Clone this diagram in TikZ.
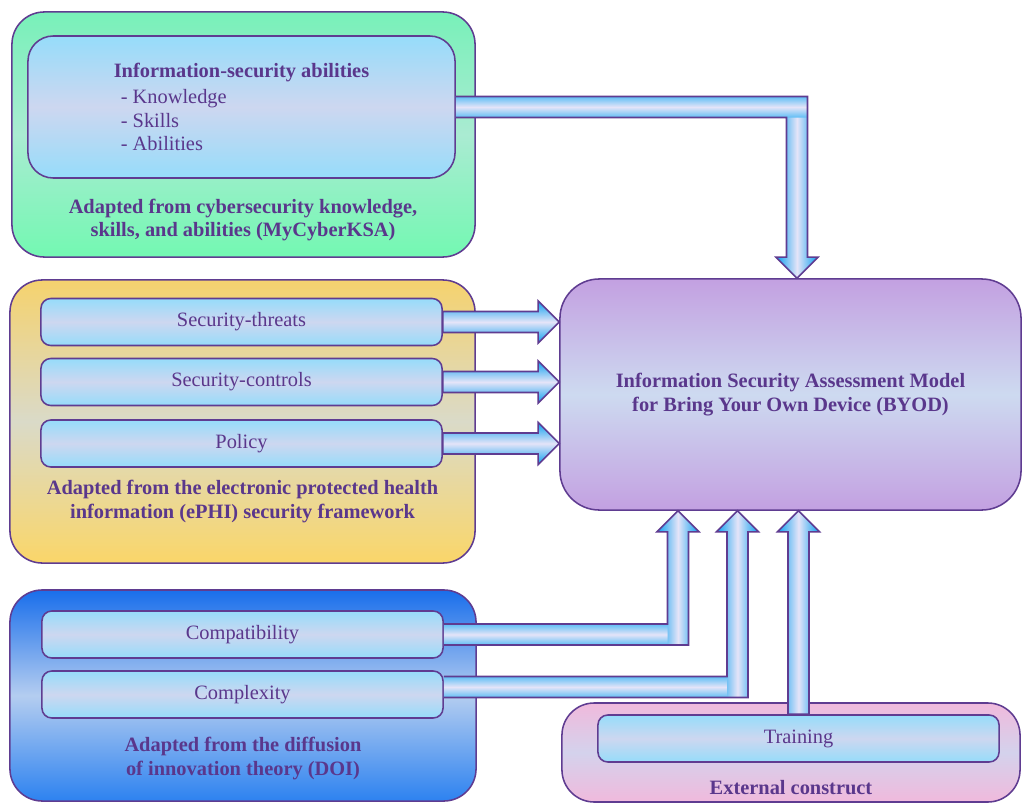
\documentclass[tikz,border=0pt]{standalone}
\usepackage{fontspec}
\setmainfont{Liberation Serif}
\usepackage{tikz}
\usetikzlibrary{calc,positioning}
\definecolor{edge}{RGB}{95,60,145}
\definecolor{ink}{RGB}{90,55,140}
\definecolor{ksatop}{RGB}{120,240,185}
\definecolor{ksamid}{RGB}{170,235,210}
\definecolor{ksabot}{RGB}{115,248,178}
\definecolor{ephitop}{RGB}{245,210,110}
\definecolor{ephimid}{RGB}{218,218,200}
\definecolor{ephibot}{RGB}{250,214,105}
\definecolor{doitop}{RGB}{25,110,235}
\definecolor{doimid}{RGB}{180,205,240}
\definecolor{doibot}{RGB}{45,130,240}
\definecolor{exttop}{RGB}{240,185,220}
\definecolor{extmid}{RGB}{212,210,236}
\definecolor{modtop}{RGB}{195,160,225}
\definecolor{modmid}{RGB}{205,218,240}
\definecolor{itemtop}{RGB}{150,220,250}
\definecolor{itemmid}{RGB}{205,215,240}
\definecolor{band}{RGB}{95,190,245}
\definecolor{banddeep}{RGB}{10,160,240}
\definecolor{bandmid}{RGB}{228,228,248}
\newcommand{\diagfont}{\fontsize{14.5}{16.8}\selectfont}

\begin{document}
\begin{tikzpicture}[
    x=0.025cm, y=-0.025cm,
    group/.style={rectangle, rounded corners=23pt, draw=edge, line width=1.1pt},
    item/.style={rectangle, rounded corners=7pt, draw=edge, line width=1.1pt,
        top color=itemtop, bottom color=itemtop, middle color=itemmid,
        minimum width=10.025cm, minimum height=1.175cm, text=ink, font=\diagfont},
    tag/.style={text=ink, font=\diagfont\bfseries, align=center},
    hband/.style={top color=#1, bottom color=#1, middle color=bandmid},
    hband/.default=band,
    vband/.style={left color=#1, right color=#1, middle color=bandmid},
    vband/.default=banddeep,
    arrline/.style={draw=edge, line width=1.1pt, line join=miter}
]
\useasboundingbox (0,0) rectangle (1022,803);

% source frameworks
\node[group, top color=ksatop, bottom color=ksabot, middle color=ksamid,
    minimum width=11.575cm, minimum height=6.125cm] (ksa) at (243.5,134.5) {};
\node[group, top color=ephitop, bottom color=ephibot, middle color=ephimid,
    minimum width=11.625cm, minimum height=7.075cm] (ephi) at (242.5,421.5) {};
\node[group, top color=doitop, bottom color=doibot, middle color=doimid,
    minimum width=11.65cm, minimum height=5.275cm] (doi) at (243,695.5) {};
\node[group, top color=exttop, bottom color=exttop, middle color=extmid,
    minimum width=11.45cm, minimum height=2.475cm] (ext) at (791,752.5) {};

\node[item, rounded corners=18pt, minimum width=10.675cm, minimum height=3.55cm,
    align=left] (abil) at (241.5,107)
    {\textbf{Information-security abilities}\\[2pt]
     \hspace*{5pt}- Knowledge\\ \hspace*{5pt}- Skills\\ \hspace*{5pt}- Abilities};
\node[item] (thr) at (241.5,322) {Security-threats};
\node[item] (ctl) at (241.5,382) {Security-controls};
\node[item] (pol) at (241.5,443.5) {Policy};
\node[item] (cmpt) at (242.5,634.5) {Compatibility};
\node[item] (cplx) at (242.5,694.5) {Complexity};
\node[item] (trn) at (798.5,738.5) {Training};

% assessment model
\node[rectangle, rounded corners=28pt, draw=edge, line width=1.1pt,
    top color=modtop, bottom color=modtop, middle color=modmid,
    minimum width=11.525cm, minimum height=5.775cm, tag] (model) at (790.5,394.5)
    {Information Security Assessment Model\\for Bring Your Own Device (BYOD)};

% KSA arrow
\coordinate (tipA) at ($(model.north)+(6.5,0)$);
\coordinate (bendA) at (abil.east -| tipA);
\shade[hband] ($(abil.east)+(0,-10.5)$) rectangle ($(bendA)+(10.5,10.5)$);
\shade[vband] ($(bendA)+(-10.5,10.5)$) -- ($(tipA)+(-10.5,-21)$) -- ($(tipA)+(-21,-21)$)
    -- (tipA) -- ($(tipA)+(21,-21)$) -- ($(tipA)+(10.5,-21)$) -- ($(bendA)+(10.5,10.5)$) -- cycle;
\draw[arrline] ($(abil.east)+(0,-10.5)$) -- ($(bendA)+(10.5,-10.5)$) -- ($(tipA)+(10.5,-21)$)
    -- ($(tipA)+(21,-21)$) -- (tipA) -- ($(tipA)+(-21,-21)$) -- ($(tipA)+(-10.5,-21)$)
    -- ($(bendA)+(-10.5,10.5)$) -- ($(abil.east)+(0,10.5)$);

% ePHI arrows
\foreach \src in {thr,ctl,pol}{
  \coordinate (tip) at (\src.east -| model.west);
  \path[arrline, hband=banddeep] ($(\src.east)+(0,-10.5)$) -- ($(tip)+(-21,-10.5)$) -- ($(tip)+(-21,-21)$)
      -- (tip) -- ($(tip)+(-21,21)$) -- ($(tip)+(-21,10.5)$) -- ($(\src.east)+(0,10.5)$) -- cycle;
}

% DOI arrows
\foreach \src/\dy/\dx in {cmpt/0/-112.5, cplx/-7.5/-53}{
  \coordinate (from) at ($(\src.east)+(0,\dy)$);
  \coordinate (tip) at ($(model.south)+(\dx,0)$);
  \coordinate (bend) at (from -| tip);
  \shade[hband] ($(from)+(0,-10.5)$) rectangle ($(bend)+(-10.5,10.5)$);
  \shade[vband] ($(bend)+(-10.5,10.5)$) -- ($(tip)+(-10.5,21)$) -- ($(tip)+(-21,21)$)
      -- (tip) -- ($(tip)+(21,21)$) -- ($(tip)+(10.5,21)$) -- ($(bend)+(10.5,10.5)$) -- cycle;
  \draw[arrline] ($(from)+(0,-10.5)$) -- ($(bend)+(-10.5,-10.5)$) -- ($(tip)+(-10.5,21)$)
      -- ($(tip)+(-21,21)$) -- (tip) -- ($(tip)+(21,21)$) -- ($(tip)+(10.5,21)$)
      -- ($(bend)+(10.5,10.5)$) -- ($(from)+(0,10.5)$);
}

% training arrow
\coordinate (tipD) at (trn.north |- model.south);
\path[arrline, vband] ($(trn.north)+(-10.5,0)$) -- ($(tipD)+(-10.5,21)$) -- ($(tipD)+(-21,21)$)
    -- (tipD) -- ($(tipD)+(21,21)$) -- ($(tipD)+(10.5,21)$) -- ($(trn.north)+(10.5,0)$) -- cycle;

% framework captions
\node[tag] (ksatag) at (243,220) {Adapted from cybersecurity knowledge,\\skills, and abilities (MyCyberKSA)};
\node[tag] (ephitag) at (242.5,501.5) {Adapted from the electronic protected health\\information (ePHI) security framework};
\node[tag] (doitag) at (243,758.5) {Adapted from the diffusion\\of innovation theory (DOI)};
\node[tag] (exttag) at (791,788) {External construct};
\end{tikzpicture}
\end{document}
